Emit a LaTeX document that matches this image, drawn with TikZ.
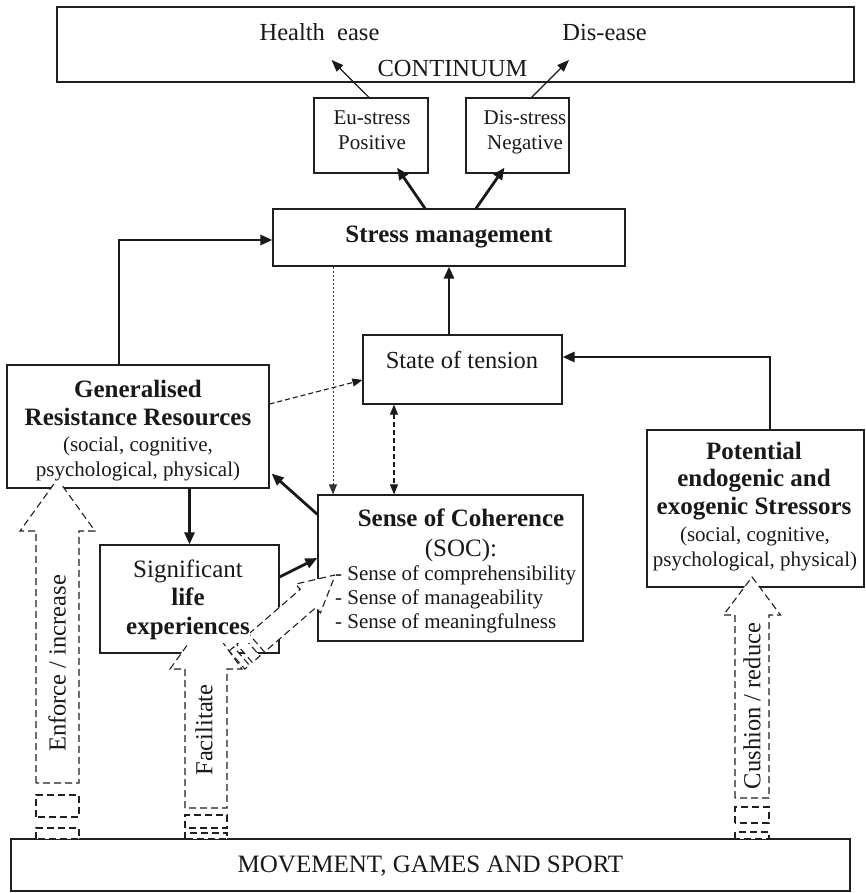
\documentclass[tikz,border=0pt]{standalone}
\usepackage{fontspec}
\setmainfont{Liberation Serif}
\usetikzlibrary{arrows.meta,calc}
\pgfdeclarelayer{bg}
\pgfdeclarelayer{mid}
\pgfsetlayers{bg,mid,main}
\newcommand\fbig{\fontsize{24.5}{28}\selectfont}
\newcommand\fsmall{\fontsize{21}{25}\selectfont}
% striped block arrow in local coordinates: a b s2end s1start s1end bodystart headbase tip
\newcommand\blkarrow[8]{%
  \draw[blk] (-#1,0) rectangle (#1,#3);
  \draw[blk] (-#1,#4) rectangle (#1,#5);
  \draw[blk] (-#1,#6) -- (-#1,#7) -- (-#2,#7) -- (0,#8) -- (#2,#7) -- (#1,#7) -- (#1,#6) -- cycle;}
\begin{document}
\begin{tikzpicture}[x=1pt,y=1pt,
  frame/.style={draw=black!88, line width=1.2pt, fill=white, inner sep=0pt},
  txt/.style={inner sep=0pt, align=center, text=black!90},
  thickarrow/.style={draw=black!90, line width=2.8pt, -{Triangle[length=12pt,width=10pt]}},
  thinarrow/.style={draw=black!90, line width=1.2pt, -{Triangle[length=12pt,width=9pt]}},
  dasharrow/.style={draw=black!90, line width=1.1pt, dash pattern=on 5pt off 3pt, -{Triangle[length=10pt,width=8pt]}},
  dasharrows/.style={draw=black!90, line width=1.1pt, dash pattern=on 5pt off 3pt, {Triangle[length=10pt,width=8pt]}-{Triangle[length=10pt,width=8pt]}},
  dotarrow/.style={draw=black!80, line width=0.9pt, dash pattern=on 2pt off 2pt, -{Triangle[length=10pt,width=8pt]}},
  blk/.style={draw=black!88, line width=1.1pt, dash pattern=on 7pt off 4pt, fill=white}]
\useasboundingbox (0,0) rectangle (866,-893);

% ---------- frames ----------
\begin{pgfonlayer}{bg}
\node[frame, minimum width=797, minimum height=75] (cont) at (455.5,-44.5) {};
\node[frame, minimum width=114, minimum height=75] (eu) at (371,-135.5) {};
\node[frame, minimum width=103, minimum height=75] (dis) at (517.5,-135.5) {};
\node[frame, minimum width=352, minimum height=57] (sm) at (449,-237.5) {};
\node[frame, minimum width=199, minimum height=69] (st) at (462.5,-369.5) {};
\node[frame, minimum width=262, minimum height=123] (grr) at (138,-426.5) {};
\node[frame, minimum width=265, minimum height=146] (soc) at (450.5,-568) {};
\node[frame, minimum width=179, minimum height=108] (sle) at (189.5,-599) {};
\node[frame, minimum width=217, minimum height=157] (pot) at (755.5,-508.5) {};
\node[frame, minimum width=839, minimum height=52] (mov) at (430.5,-865) {};
\end{pgfonlayer}

% ---------- striped block arrows ----------
\begin{pgfonlayer}{mid}
\begin{scope}[shift={(57.5,-839)}]
  \blkarrow{21.5}{37.5}{11}{22}{44}{56}{308}{360}
\end{scope}
\begin{scope}[shift={(206,-839)}]
  \blkarrow{21}{36}{6}{11}{24}{31}{170}{220}
\end{scope}
\begin{scope}[shift={(237,-660)}, rotate=-49.1]
  \blkarrow{12}{19}{6}{10}{20}{26}{94}{130}
\end{scope}
\begin{scope}[shift={(752,-839)}]
  \blkarrow{17}{28.5}{7}{16}{32}{41}{224}{262}
\end{scope}
\end{pgfonlayer}

% ---------- texts ----------
\node[txt, font=\fbig, anchor=base] (health) at (319.5,-40.7) {Health~~ease};
\node[txt, font=\fbig, anchor=base] (diseaseT) at (604.5,-40.7) {Dis-ease};
\node[txt, font=\fbig, anchor=base] (contT) at (452.5,-76.7) {CONTINUUM};
\node[txt, font=\fsmall] (euT) at (372,-132.5) {\strut Eu-stress\\Positive\strut};
\node[txt, font=\fsmall] (disT) at (525,-132.5) {\strut Dis-stress\\Negative\strut};
\node[txt, font=\fontsize{25}{28}\selectfont\bfseries, anchor=base] (smT) at (449,-242.7) {Stress management};
\node[txt, font=\fbig, anchor=base] (stT) at (462,-368) {State of tension};
\node[txt, font=\fontsize{25}{28}\selectfont\bfseries] (grrT) at (138,-405.4) {\strut Generalised\\Resistance Resources\strut};
\node[txt, font=\fsmall, fill=white] (grrS) at (138,-460.5) {(social, cognitive,\\psychological, physical)\strut};
\node[txt, font=\fontsize{25}{30}\selectfont] (socT) at (461,-535.7) {\strut\textbf{Sense of Coherence}\\(SOC):\strut};
\node[txt, font=\fontsize{21}{23.7}\selectfont, align=left, anchor=west, fill=white] (socL) at (335,-599.6) {\strut- Sense of comprehensibility\\- Sense of manageability\\- Sense of meaningfulness\strut};
\node[txt, font=\fontsize{25}{28.5}\selectfont, fill=white] (sleT) at (188,-599.8) {\strut Significant\\\textbf{life}\\\textbf{experiences}\strut};
\node[txt, font=\fontsize{25}{27.5}\selectfont\bfseries] (potT) at (754,-481) {\strut Potential\\endogenic and\\exogenic Stressors\strut};
\node[txt, font=\fsmall] (potS) at (755,-549.2) {\strut(social, cognitive,\\psychological, physical)\strut};
\node[txt, font=\fontsize{25}{28}\selectfont, anchor=base] (movT) at (430.5,-872.3) {MOVEMENT, GAMES AND SPORT};
\node[txt, font=\fbig, rotate=90] (enfT) at (57,-663.5) {Enforce / increase};
\node[txt, font=\fbig, rotate=90] (facT) at (204,-730) {Facilitate};
\node[txt, font=\fbig, rotate=90] (cusT) at (752,-706) {Cushion / reduce};

% ---------- connectors ----------
\coordinate (hTip) at (331.5,-60);
\coordinate (dTip) at (569,-60);
\draw[thinarrow] ($(eu.north)+(-2,0)$) -- (hTip);
\draw[thinarrow] ($(dis.north)+(14,0)$) -- (dTip);
\draw[thickarrow] ($(sm.north)+(-24,0)$) -- ($(eu.south)+(26,6)$);
\draw[thickarrow] ($(sm.north)+(27,0)$) -- ($(dis.south)+(-13,6)$);
\draw[thickarrow] ($(grr.north)+(-19,0)$) |- ($(sm.west)+(0,-2.5)$);
\draw[thickarrow] (sm.south |- st.north) -- (sm.south);
\draw[thickarrow] ($(pot.north)+(14.5,0)$) |- ($(st.east)+(0,12.5)$);
\draw[dasharrow] ($(grr.east)+(0,22.5)$) -- ($(st.west)+(0,-10.5)$);
\draw[dotarrow] ($(sm.south)+(-116,0)$) -- ($(soc.north)+(-117.5,0)$);
\draw[dasharrows] ($(st.south)+(-68.5,0)$) -- ($(soc.north)+(-56.5,0)$);
\draw[thickarrow] ($(soc.north west)+(0,-20)$) -- ($(grr.south east)+(2,15)$);
\draw[thickarrow] ($(sle.east)+(0,22)$) -- ($(soc.west)+(0,10)$);
\draw[thickarrow] (grr.south -| sle.north) -- (sle.north);
\end{tikzpicture}
\end{document}
